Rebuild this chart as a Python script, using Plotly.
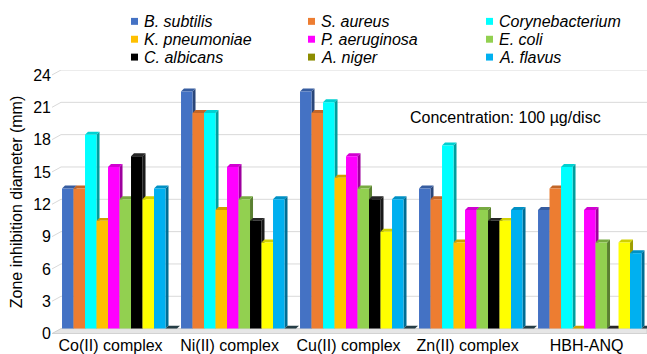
import plotly.graph_objects as go

# ---- data -------------------------------------------------------------
categories = ["Co(II) complex", "Ni(II) complex", "Cu(II) complex",
              "Zn(II) complex", "HBH-ANQ"]
organisms = ["B. subtilis", "S. aureus", "Corynebacterium",
             "K. pneumoniae", "P. aeruginosa", "E. coli",
             "C. albicans", "A. niger", "A. flavus"]

b_subtilis      = [13, 22, 22, 13, 11]
s_aureus        = [13, 20, 20, 12, 13]
corynebacterium = [18, 20, 21, 17, 15]
k_pneumoniae    = [10, 11, 14, 8, 0]
p_aeruginosa    = [15, 15, 16, 11, 11]
e_coli          = [12, 12, 13, 11, 8]
c_albicans      = [16, 10, 12, 10, 0]
a_niger         = [12, 8, 9, 10, 8]
a_flavus        = [13, 12, 12, 11, 7]
empty_series    = [0, 0, 0, 0, 0]      # trailing empty slot in every group

y_ticks = [0, 3, 6, 9, 12, 15, 18, 21, 24]

# ---- styling ----------------------------------------------------------
colors = ["#4472C4", "#ED7D31", "#00FFFF", "#FFC000", "#FF00FF",
          "#92D050", "#000000", "#FFFF00", "#00B0F0"]
legend_colors = colors[:7] + ["#8C8C00"] + colors[8:]
empty_color = "#2E4B55"
FONT = "Liberation Sans, Arial, Helvetica, sans-serif"

W, H = 647, 354
ML, MR, MT, MB = 52, 0, 70, 18
PW, PH = W - ML - MR, H - MT - MB
PX_PER_CAT = 119.0
CAT0_PX = 119.5                      # pixel x of category 0 centre
X_MIN = (ML - CAT0_PX) / PX_PER_CAT
X_MAX = (W - MR - CAT0_PX) / PX_PER_CAT
Y_MIN, Y_MAX = -0.5, 24
PX_PER_UNIT = PH / (Y_MAX - Y_MIN)

BAR_W = 11.5 / PX_PER_CAT
GROUP_LEFT = -0.483
DX = 3.0 / PX_PER_CAT                # 3D depth offsets
DY = 3.0 / PX_PER_UNIT


def shade(hex_color, f):
    h = hex_color.lstrip("#")
    r, g, b = (int(h[i:i + 2], 16) for i in (0, 2, 4))
    return "#%02x%02x%02x" % (int(r * f), int(g * f), int(b * f))


def px_to_paper_x(px):
    return (px - ML) / PW


def px_to_paper_y(py):
    return 1 - (py - MT) / PH


series = [b_subtilis, s_aureus, corynebacterium, k_pneumoniae,
          p_aeruginosa, e_coli, c_albicans, a_niger, a_flavus, empty_series]
names = organisms + [""]
fills = colors + [empty_color]

x_pos = list(range(len(categories)))
fig = go.Figure()
shapes = []

# wall grid lines with a short perspective segment on the left
wall_dx = 9 / PX_PER_CAT
wall_dy = 5 / PX_PER_UNIT
for v in y_ticks[1:]:
    shapes.append(dict(
        type="path", xref="x", yref="y", layer="below",
        path=f"M{X_MIN},{v - wall_dy} L{X_MIN + wall_dx},{v} L{X_MAX},{v}",
        line=dict(color="#D9D9D9", width=1)))
# floor
shapes.append(dict(
    type="path", xref="x", yref="y", layer="below",
    path=(f"M{X_MIN},{-wall_dy} L{X_MAX},{-wall_dy} L{X_MAX},0 "
          f"L{X_MIN + wall_dx},0 Z"),
    fillcolor="#E6E6E6", line=dict(color="#CFCFCF", width=1)))

for k, (vals, name, col) in enumerate(zip(series, names, fills)):
    off = GROUP_LEFT + k * BAR_W
    fig.add_trace(go.Bar(
        x=x_pos, y=vals, name=name, offset=off, width=BAR_W,
        marker=dict(color=col, line=dict(width=0)),
        showlegend=False, hoverinfo="y+name"))
    for i, v in zip(x_pos, vals):
        xl = i + off
        xr = xl + BAR_W
        top_col = shade(col, 0.82) if col != "#000000" else "#262626"
        side_col = shade(col, 0.62) if col != "#000000" else "#1a1a1a"
        # right side face
        shapes.append(dict(
            type="path", xref="x", yref="y", layer="between",
            path=f"M{xr},0 L{xr + DX},{DY} L{xr + DX},{v + DY} L{xr},{v} Z",
            fillcolor=side_col, line=dict(width=0)))
        # top face
        shapes.append(dict(
            type="path", xref="x", yref="y", layer="between",
            path=f"M{xl},{v} L{xr},{v} L{xr + DX},{v + DY} L{xl + DX},{v + DY} Z",
            fillcolor=top_col, line=dict(width=0)))

# legend drawn as three columns of swatches and italic labels
annotations = []
col_px = [131, 308, 486]
row_px = [21, 39, 57]
for n, (name, col) in enumerate(zip(organisms, legend_colors)):
    cx = col_px[n % 3]
    cy = row_px[n // 3]
    shapes.append(dict(
        type="rect", xref="paper", yref="paper",
        x0=px_to_paper_x(cx), x1=px_to_paper_x(cx + 7),
        y0=px_to_paper_y(cy + 3.5), y1=px_to_paper_y(cy - 3.5),
        fillcolor=col, line=dict(width=0)))
    annotations.append(dict(
        text=f"<i>{name}</i>", xref="paper", yref="paper",
        x=px_to_paper_x(cx + 11), y=px_to_paper_y(cy),
        xanchor="left", yanchor="middle", showarrow=False,
        font=dict(family=FONT, size=16, color="#000000")))

annotations.append(dict(
    text="Concentration: 100 µg/disc", xref="paper", yref="paper",
    x=px_to_paper_x(505), y=px_to_paper_y(118),
    xanchor="center", yanchor="middle", showarrow=False,
    font=dict(family=FONT, size=16, color="#000000")))

fig.update_layout(
    width=W, height=H,
    margin=dict(l=ML, r=MR, t=MT, b=MB, pad=0),
    paper_bgcolor="#FFFFFF", plot_bgcolor="#FFFFFF",
    barmode="overlay",
    font=dict(family=FONT, size=16, color="#000000"),
    shapes=shapes, annotations=annotations,
    showlegend=False,
    xaxis=dict(
        range=[X_MIN, X_MAX], tickmode="array",
        tickvals=[i - 0.075 for i in x_pos], ticktext=categories,
        showgrid=False, zeroline=False, showline=False, ticks="",
        tickfont=dict(family=FONT, size=16, color="#000000")),
    yaxis=dict(
        range=[Y_MIN, Y_MAX], tickmode="array", tickvals=y_ticks,
        showgrid=False, zeroline=False, showline=False, ticks="",
        ticklabelshift=5,
        tickfont=dict(family=FONT, size=16, color="#000000"),
        title=dict(text="Zone inhibition diameter (mm)", standoff=6,
                   font=dict(family=FONT, size=16, color="#000000"))),
)

fig.write_html("out.html")
